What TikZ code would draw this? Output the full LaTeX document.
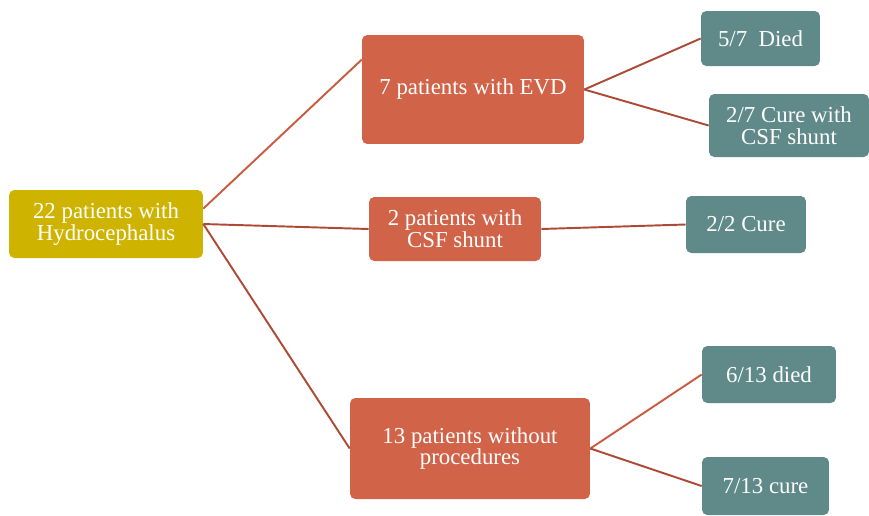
\documentclass[tikz,border=0pt]{standalone}
\usepackage{fontspec}
\setmainfont{Liberation Serif}
\usepackage{tikz}

\definecolor{rootcol}{RGB}{206,180,0}
\definecolor{groupcol}{RGB}{209,99,73}
\definecolor{outcol}{RGB}{96,138,137}
\definecolor{linkcol}{RGB}{200,92,66}
\definecolor{darklink}{RGB}{172,74,54}

\begin{document}
\begin{tikzpicture}[
  x=0.02cm, y=-0.02cm,
  box/.style = {rounded corners=3pt, text=white, align=center, inner sep=2pt,
                font=\fontsize{13}{12.5}\selectfont},
  root/.style = {box, fill=rootcol},
  group/.style = {box, fill=groupcol},
  outcome/.style = {box, fill=outcol},
  link/.style = {line width=1.1pt, darklink}
]
  \useasboundingbox (0,0) rectangle (869,515);

  % Root
  \node[root, minimum width=3.88cm, minimum height=1.36cm] (hydro) at (106,224)
    {22 patients with\\Hydrocephalus};

  % Groups
  \node[group, minimum width=4.44cm, minimum height=2.18cm] (evd) at (473,89.5)
    {7 patients with EVD};
  \node[group, minimum width=3.44cm, minimum height=1.28cm] (shunt) at (455,229)
    {2 patients with\\CSF shunt};
  \node[group, minimum width=4.80cm, minimum height=2.02cm] (noproc) at (470,448.5)
    {13 patients without\\procedures};

  % Outcomes
  \node[outcome, minimum width=2.38cm, minimum height=1.10cm] (evddied) at (760.5,38.5)
    {5/7~~Died};
  \node[outcome, minimum width=3.20cm, minimum height=1.26cm] (evdcure) at (789,125.5)
    {2/7 Cure with\\CSF shunt};
  \node[outcome, minimum width=2.40cm, minimum height=1.14cm] (shuntcure) at (746,224.5)
    {2/2 Cure};
  \node[outcome, minimum width=2.68cm, minimum height=1.14cm] (nodied) at (769,374.5)
    {6/13 died};
  \node[outcome, minimum width=2.54cm, minimum height=1.16cm] (nocure) at (765.5,486)
    {7/13 cure};

  % Links
  \draw[link, linkcol] (hydro.9) -- (evd.165);
  \draw[link] (hydro.east) -- (shunt.west);
  \draw[link] (hydro.east) -- (noproc.west);

  \draw[link] (evd.east) -- (evddied.west);
  \draw[link] (evd.east) -- (evdcure.west);
  \draw[link] (shunt.east) -- (shuntcure.west);
  \draw[link, linkcol] (noproc.east) -- (nodied.west);
  \draw[link] (noproc.east) -- (nocure.west);

\end{tikzpicture}
\end{document}
